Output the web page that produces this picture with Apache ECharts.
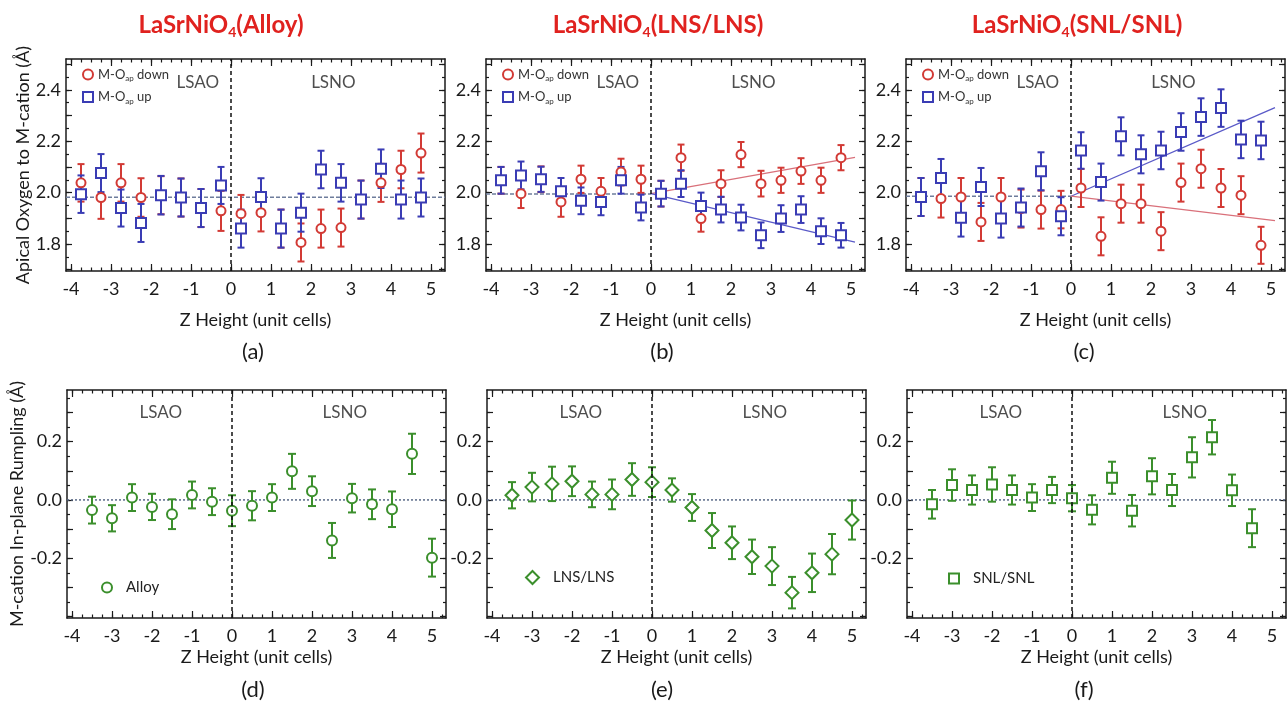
<!DOCTYPE html>
<html><head><meta charset="utf-8">
<script src="https://cdn.jsdelivr.net/npm/echarts@6/dist/echarts.min.js"></script>
<style>html,body{margin:0;padding:0;background:#fff}#c{width:1288px;height:703px}</style>
</head><body><div id="c"></div>
<script>
// ---------- data ----------
const zTop = [-3.75,-3.25,-2.75,-2.25,-1.75,-1.25,-0.75,-0.25,0.25,0.75,1.25,1.75,2.25,2.75,3.25,3.75,4.25,4.75];
const zBot = [-3.5,-3,-2.5,-2,-1.5,-1,-0.5,0,0.5,1,1.5,2,2.5,3,3.5,4,4.5,5];
const zBotF = [-3.5,-3,-2.5,-2,-1.5,-1,-0.5,0,0.5,1,1.5,2,2.5,3,3.5,4,4.5];

const xTickLabels = [-4,-3,-2,-1,0,1,2,3,4,5];
const topYLabels = [1.8,2.0,2.2,2.4];
const botYLabels = [-0.2,0.0,0.2];

// (a) Alloy
const aDown = [2.038,1.981,2.038,1.981,1.990,1.981,1.940,1.929,1.918,1.922,1.860,1.806,1.860,1.864,1.973,2.038,2.090,2.154];
const aDownErr = [0.073,0.083,0.073,0.075,0.074,0.074,0.074,0.078,0.073,0.073,0.074,0.074,0.074,0.074,0.074,0.074,0.073,0.076];
const aUp = [1.994,2.076,1.940,1.882,1.990,1.981,1.940,2.028,1.860,1.983,1.860,1.922,2.090,2.038,1.973,2.093,1.973,1.981];
const aUpErr = [0.073,0.074,0.072,0.074,0.075,0.074,0.074,0.072,0.074,0.073,0.074,0.074,0.073,0.073,0.074,0.075,0.074,0.074];
const aBase = 1.982;

// (b) LNS/LNS
const bDown = [2.048,1.996,2.052,1.964,2.052,2.005,2.080,2.052,1.996,2.136,1.899,2.035,2.148,2.035,2.048,2.084,2.048,2.136];
const bDownErr = [0.052,0.056,0.050,0.058,0.053,0.052,0.052,0.053,0.050,0.051,0.051,0.052,0.049,0.050,0.049,0.050,0.049,0.049];
const bUp = [2.048,2.067,2.052,2.005,1.968,1.964,2.048,1.942,1.996,2.035,1.948,1.934,1.903,1.834,1.899,1.934,1.850,1.834];
const bUpErr = [0.052,0.054,0.049,0.052,0.052,0.052,0.052,0.050,0.050,0.052,0.052,0.050,0.050,0.050,0.052,0.052,0.050,0.048];
const bBase = 1.995;
const bFitDown = [[0,1.996],[5.1,2.137]];
const bFitUp = [[0,1.996],[5.1,1.807]];

// (c) SNL/SNL
const cDown = [1.983,1.977,1.983,1.886,1.983,1.938,1.934,1.934,2.018,1.830,1.957,1.957,1.850,2.039,2.093,2.018,1.990,1.795];
const cDownErr = [0.074,0.074,0.074,0.074,0.074,0.074,0.074,0.073,0.074,0.074,0.074,0.074,0.074,0.074,0.074,0.074,0.074,0.072];
const cUp = [1.983,2.057,1.902,2.022,1.899,1.942,2.083,1.908,2.164,2.041,2.219,2.149,2.164,2.236,2.294,2.329,2.207,2.203];
const cUpErr = [0.074,0.074,0.073,0.074,0.074,0.074,0.074,0.074,0.071,0.072,0.074,0.074,0.073,0.073,0.073,0.073,0.073,0.073];
const cBase = 1.986;
const cFitUp = [[0,1.986],[5.1,2.331]];
const cFitDown = [[0,1.986],[5.1,1.891]];

// (d) Alloy rumpling
const dVals = [-0.035,-0.063,0.008,-0.024,-0.049,0.017,-0.006,-0.037,-0.020,0.008,0.098,0.030,-0.139,0.006,-0.015,-0.032,0.158,-0.198];
const dErr  = [0.046,0.045,0.046,0.045,0.051,0.046,0.046,0.053,0.050,0.046,0.060,0.051,0.060,0.049,0.051,0.061,0.069,0.065];
// (e) LNS/LNS rumpling
const eVals = [0.016,0.044,0.055,0.064,0.019,0.019,0.070,0.061,0.034,-0.026,-0.105,-0.147,-0.195,-0.227,-0.318,-0.250,-0.186,-0.069];
const eErr  = [0.045,0.049,0.059,0.051,0.044,0.051,0.056,0.051,0.040,0.046,0.060,0.056,0.059,0.065,0.054,0.066,0.069,0.067];
// (f) SNL/SNL rumpling
const fVals = [-0.015,0.051,0.034,0.053,0.034,0.008,0.034,0.006,-0.034,0.076,-0.037,0.081,0.034,0.146,0.215,0.033,-0.097];
const fErr  = [0.049,0.054,0.050,0.059,0.050,0.046,0.045,0.045,0.050,0.055,0.054,0.062,0.055,0.069,0.059,0.054,0.065];

// ---------- styling / layout ----------
const FONT = 'Lato';
const AX = '#1a1a1a';
const RED = '#d23a35', BLUE = '#3a3cb4', GREEN = '#3b8f2c';
const XMIN = -4.125, XMAX = 5.35;
const TOPY = [1.695, 2.52], BOTY = [-0.405, 0.377];

function steps(a, b, s) { const r = []; for (let k = 0; a + k * s <= b + 1e-9; k++) r.push(+(a + k * s).toFixed(4)); return r; }
const xMinor = steps(-4, 5.25, 0.25);
const topYMajor = steps(1.7, 2.5, 0.1), topYMinor = steps(1.7, 2.5, 0.05);
const botYMajor = steps(-0.4, 0.3, 0.1), botYMinor = steps(-0.4, 0.35, 0.05);

const grids = [], xAxes = [], yAxes = [], series = [], legends = [], graphics = [];

function tickAxis(base, pos, values, len, showLine) {
  return Object.assign({}, base, {
    position: pos,
    axisLine: { show: showLine, onZero: false, lineStyle: { color: AX, width: 1.5 } },
    axisTick: { show: true, inside: true, length: len, customValues: values, lineStyle: { color: AX, width: 1.2 } },
    axisLabel: { show: false }, splitLine: { show: false }
  });
}

function addGrid(left, top, height, yr, yMajor, yMinor, yLabels, yName, yNameGap, xNameGap) {
  const gi = grids.length;
  grids.push({ left: left, top: top, width: 379, height: height });
  const bx = { gridIndex: gi, type: 'value', min: XMIN, max: XMAX };
  const by = { gridIndex: gi, type: 'value', min: yr[0], max: yr[1] };
  const xi = xAxes.length;
  xAxes.push(Object.assign(tickAxis(bx, 'bottom', xTickLabels, 7, true), {
    axisLabel: { show: true, customValues: xTickLabels, fontFamily: FONT, fontSize: 18, color: AX, margin: 9 },
    name: 'Z Height (unit cells)', nameLocation: 'middle', nameGap: xNameGap,
    nameTextStyle: { fontFamily: FONT, fontSize: 18, color: AX }
  }));
  xAxes.push(tickAxis(bx, 'bottom', xMinor, 3.5, false));
  xAxes.push(tickAxis(bx, 'top', xTickLabels, 7, true));
  xAxes.push(tickAxis(bx, 'top', xMinor, 3.5, false));
  const yi = yAxes.length;
  const ymain = Object.assign(tickAxis(by, 'left', yMajor, 6, true), {
    axisLabel: { show: true, customValues: yLabels, fontFamily: FONT, fontSize: 18, color: AX, margin: 5,
      formatter: v => (+v).toFixed(1) }
  });
  if (yName) Object.assign(ymain, { name: yName, nameLocation: 'middle', nameGap: yNameGap, nameRotate: 90,
    nameTextStyle: { fontFamily: FONT, fontSize: 18, color: AX } });
  yAxes.push(ymain);
  yAxes.push(tickAxis(by, 'left', yMinor, 3, false));
  yAxes.push(tickAxis(by, 'right', yMajor, 6, true));
  yAxes.push(tickAxis(by, 'right', yMinor, 3, false));
  return { xi: xi, yi: yi };
}

function errSeries(ax, xs, vals, errs, color, cap) {
  return {
    type: 'custom', xAxisIndex: ax.xi, yAxisIndex: ax.yi, silent: true, z: 3,
    data: vals.map((v, i) => [xs[i], v, errs[i]]),
    encode: { x: 0, y: 1 },
    renderItem: function (params, api) {
      const x = api.value(0), y = api.value(1), e = api.value(2);
      const p1 = api.coord([x, y + e]), p2 = api.coord([x, y - e]);
      const st = { stroke: color, lineWidth: 2 };
      return { type: 'group', children: [
        { type: 'line', shape: { x1: p1[0], y1: p1[1], x2: p2[0], y2: p2[1] }, style: st },
        { type: 'line', shape: { x1: p1[0] - cap, y1: p1[1], x2: p1[0] + cap, y2: p1[1] }, style: st },
        { type: 'line', shape: { x1: p2[0] - cap, y1: p2[1], x2: p2[0] + cap, y2: p2[1] }, style: st }
      ] };
    }
  };
}
function symSeries(ax, name, xs, vals, color, symbol, size) {
  return {
    type: 'scatter', name: name, xAxisIndex: ax.xi, yAxisIndex: ax.yi, z: 4, silent: true,
    symbol: symbol, symbolSize: size,
    itemStyle: { color: color, borderColor: color, borderWidth: 1.9, opacity: 1 },
    data: vals.map((v, i) => [xs[i], v])
  };
}
function lineSeries(ax, data, color, type, width) {
  return { type: 'line', xAxisIndex: ax.xi, yAxisIndex: ax.yi, symbol: 'none', silent: true, z: 2,
    lineStyle: { color: color, width: width, type: type }, data: data };
}
function vLine(ax) {
  return { type: 'line', xAxisIndex: ax.xi, yAxisIndex: ax.yi, data: [], silent: true, z: 2,
    markLine: { silent: true, symbol: 'none', label: { show: false },
      lineStyle: { color: '#111', width: 1.5, type: [4, 3] }, data: [{ xAxis: 0 }] } };
}
function regionLabels(ax, pts) {
  return { type: 'scatter', xAxisIndex: ax.xi, yAxisIndex: ax.yi, symbolSize: 1, silent: true, z: 5,
    itemStyle: { color: 'rgba(0,0,0,0)' },
    label: { show: true, position: 'inside', formatter: p => p.data[2], fontFamily: FONT, fontSize: 17, color: '#222' },
    data: pts };
}

const subRich = {
  a: { fontFamily: FONT, fontSize: 13, color: '#333', lineHeight: 16 },
  s: { fontFamily: FONT, fontSize: 8, color: '#333', lineHeight: 8, verticalAlign: 'bottom' }
};

// ---------- top row ----------
const topPanels = [
  { left: 66, down: aDown, dErr: aDownErr, up: aUp, uErr: aUpErr, base: aBase, full: true },
  { left: 486, down: bDown, dErr: bDownErr, up: bUp, uErr: bUpErr, base: bBase, fits: [[bFitDown, '#d9707a'], [bFitUp, '#5a5ac8']] },
  { left: 906, down: cDown, dErr: cDownErr, up: cUp, uErr: cUpErr, base: cBase, fits: [[cFitUp, '#5a5ac8'], [cFitDown, '#d9707a']] }
];
topPanels.forEach((p, k) => {
  const ax = addGrid(p.left, 59, 212, TOPY, topYMajor, topYMinor, topYLabels,
    k === 0 ? 'Apical Oxygen to M-cation (Å)' : null, 34, 40);
  series.push(vLine(ax));
  series.push(lineSeries(ax, p.full ? [[XMIN, p.base], [XMAX, p.base]] : [[XMIN, p.base], [0, p.base]], '#6e7d9c', [4, 2], 1.5));
  if (p.fits) p.fits.forEach(f => series.push(lineSeries(ax, f[0], f[1], 'solid', 1.3)));
  series.push(errSeries(ax, zTop, p.down, p.dErr, RED, 3.5));
  series.push(symSeries(ax, 'M-O_ap down', zTop, p.down, RED, 'emptyCircle', 9));
  series.push(errSeries(ax, zTop, p.up, p.uErr, BLUE, 3.5));
  series.push(symSeries(ax, 'M-O_ap up', zTop, p.up, BLUE, 'emptyRect', 10));
  series.push(regionLabels(ax, [[-0.83, 2.43, 'LSAO'], [2.56, 2.43, 'LSNO']]));
  legends.push({
    left: p.left + 16, top: 68, orient: 'vertical', padding: 0, itemGap: 8, itemWidth: 10, itemHeight: 10,
    selectedMode: false,
    data: [{ name: 'M-O_ap down', icon: 'emptyCircle' }, { name: 'M-O_ap up', icon: 'emptyRect' }],
    formatter: n => n === 'M-O_ap down' ? '{a|M-O}{s|ap}{a| down}' : '{a|M-O}{s|ap}{a| up}',
    textStyle: { rich: subRich }
  });
});

// ---------- bottom row ----------
const botPanels = [
  { left: 67, xs: zBot, vals: dVals, err: dErr, name: 'Alloy', sym: 'emptyCircle', size: 10, lg: [101, 580] },
  { left: 487, xs: zBot, vals: eVals, err: eErr, name: 'LNS/LNS', sym: 'emptyDiamond', size: 13, lg: [525, 570] },
  { left: 907, xs: zBotF, vals: fVals, err: fErr, name: 'SNL/SNL', sym: 'emptyRect', size: 10, lg: [948, 571] }
];
botPanels.forEach((p, k) => {
  const ax = addGrid(p.left, 390, 228, BOTY, botYMajor, botYMinor, botYLabels,
    k === 0 ? 'M-cation In-plane Rumpling (Å)' : null, 36, 30);
  series.push(vLine(ax));
  series.push(lineSeries(ax, [[XMIN, 0], [XMAX, 0]], '#5a6a88', [2, 2], 1.5));
  series.push(errSeries(ax, p.xs, p.vals, p.err, GREEN, 4));
  series.push(symSeries(ax, p.name, p.xs, p.vals, GREEN, p.sym, p.size));
  series.push(regionLabels(ax, [[-1.78, 0.30, 'LSAO'], [2.82, 0.30, 'LSNO']]));
  legends.push({
    left: p.lg[0], top: p.lg[1], padding: 0, itemWidth: p.size, itemHeight: p.size, selectedMode: false,
    data: [{ name: p.name, icon: p.sym }],
    textStyle: { fontFamily: FONT, fontSize: 15, color: '#222', padding: [0, 0, 0, 9] }
  });
});

// ---------- titles & panel letters ----------
const titleRich = {
  m: { fontFamily: FONT, fontSize: 24, fontWeight: 'bold', fill: '#e0221f', lineHeight: 28 },
  s: { fontFamily: FONT, fontSize: 14, fontWeight: 'bold', fill: '#e0221f', lineHeight: 12, verticalAlign: 'bottom' }
};
[['(Alloy)', 221], ['(LNS/LNS)', 658], ['(SNL/SNL)', 1077]].forEach(t => {
  graphics.push({ type: 'text', x: t[1], y: 25, silent: true,
    style: { text: '{m|LaSrNiO}{s|4}{m|' + t[0] + '}', rich: titleRich, align: 'center', verticalAlign: 'middle' } });
});
[['(a)', 253, 352], ['(b)', 662, 352], ['(c)', 1084, 352], ['(d)', 253, 690], ['(e)', 662, 690], ['(f)', 1084, 690]].forEach(t => {
  graphics.push({ type: 'text', x: t[1], y: t[2], silent: true,
    style: { text: t[0], fontFamily: FONT, fontSize: 22, fill: '#1a1a1a', align: 'center', verticalAlign: 'middle' } });
});

const chart = echarts.init(document.getElementById('c'), null, { renderer: 'canvas' });
chart.setOption({
  backgroundColor: '#ffffff',
  animation: false,
  grid: grids, xAxis: xAxes, yAxis: yAxes, series: series, legend: legends, graphic: graphics
});
</script></body></html>
